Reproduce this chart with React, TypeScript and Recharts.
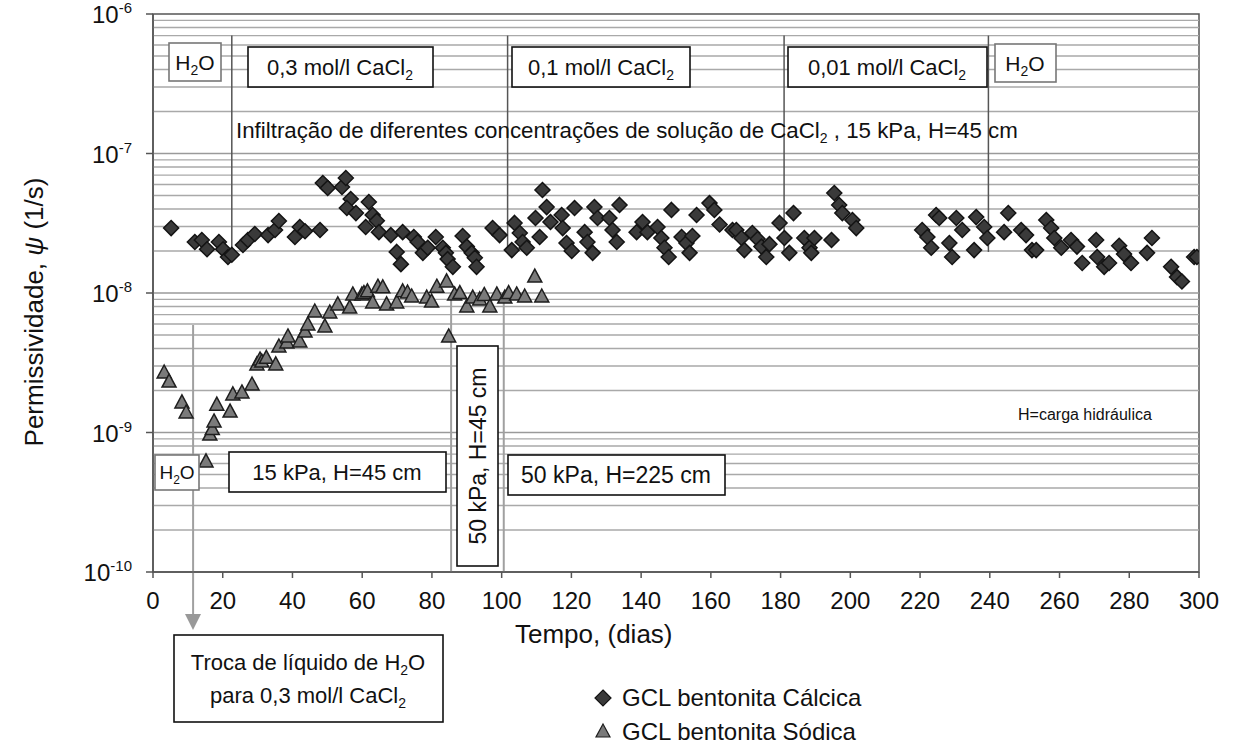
import {
  ReferenceArea,
  ReferenceLine,
  Scatter,
  ScatterChart,
  XAxis,
  YAxis,
} from "recharts";

// GCL bentonita Cálcica (diamonds)
const calcicDias = [
  5.2, 12.0, 14.0, 15.5, 18.9, 20.1, 21.5, 22.6, 25.8, 27.2, 29.2, 33.0, 35.0, 36.1, 40.7, 42.1, 43.6, 47.9,
  48.7, 50.1, 54.2, 55.3, 56.7, 55.6, 58.2, 61.9, 63.0, 64.2, 61.0, 64.8, 68.2, 71.6, 69.9, 71.1, 74.8, 75.9,
  77.4, 78.8, 81.1, 83.1, 84.0, 84.5, 86.0, 88.8, 90.0, 91.4, 92.3, 92.8, 97.4, 99.4, 103.7, 105.2, 102.9,
  106.0, 107.2, 109.7, 110.9, 111.7, 112.9, 114.0, 117.2, 117.5, 118.6, 120.1, 120.9, 123.8, 124.6, 126.1,
  126.6, 127.5, 130.9, 131.8, 133.0, 133.8, 138.7, 140.4, 141.8, 144.7, 145.8, 146.7, 147.9, 148.7, 151.6,
  153.0, 153.9, 154.7, 155.9, 159.6, 161.0, 162.5, 166.2, 167.3, 168.8, 169.6, 171.9, 173.4, 174.5, 175.9,
  176.8, 179.7, 181.1, 182.5, 183.7, 186.8, 188.3, 189.7, 188.8, 194.6, 195.4, 196.8, 197.7, 200.6, 201.7,
  220.6, 222.1, 223.2, 224.6, 225.5, 228.4, 229.2, 230.4, 232.1, 235.5, 236.1, 238.4, 239.3, 245.3, 244.1,
  249.0, 250.4, 252.1, 253.3, 256.2, 257.6, 258.5, 260.5, 263.3, 265.0, 266.5, 270.5, 270.8, 272.8, 274.2,
  277.1, 278.5, 280.5, 285.1, 286.5, 292.0, 293.7, 295.1, 298.6, 299.4,
];
const calcicPsi = [
  2.92e-8, 2.32e-8, 2.4e-8, 2.06e-8, 2.32e-8, 2.06e-8, 1.81e-8, 1.88e-8, 2.21e-8, 2.4e-8, 2.65e-8, 2.6e-8,
  2.83e-8, 3.28e-8, 2.52e-8, 2.97e-8, 2.77e-8, 2.83e-8, 6.15e-8, 5.66e-8, 5.75e-8, 6.67e-8, 4.72e-8, 4.07e-8,
  3.74e-8, 4.49e-8, 3.62e-8, 3.3e-8, 2.97e-8, 2.73e-8, 2.6e-8, 2.73e-8, 1.97e-8, 1.61e-8, 2.52e-8, 2.32e-8,
  1.94e-8, 2.11e-8, 2.52e-8, 2.11e-8, 1.94e-8, 1.75e-8, 1.54e-8, 2.56e-8, 2.15e-8, 1.94e-8, 1.79e-8, 1.54e-8,
  2.92e-8, 2.6e-8, 3.18e-8, 2.69e-8, 2.03e-8, 2.32e-8, 2.11e-8, 3.45e-8, 2.52e-8, 5.48e-8, 4.13e-8, 3.23e-8,
  3.62e-8, 2.92e-8, 2.28e-8, 2.0e-8, 4.07e-8, 2.73e-8, 2.32e-8, 1.94e-8, 4.13e-8, 3.45e-8, 3.45e-8, 2.83e-8,
  2.32e-8, 4.28e-8, 2.73e-8, 3.23e-8, 2.73e-8, 2.97e-8, 2.48e-8, 2.11e-8, 1.81e-8, 3.94e-8, 2.52e-8, 2.28e-8,
  1.94e-8, 2.56e-8, 3.62e-8, 4.41e-8, 3.94e-8, 3.1e-8, 2.83e-8, 2.83e-8, 2.48e-8, 2.03e-8, 2.69e-8, 2.44e-8,
  2.15e-8, 1.81e-8, 2.24e-8, 3.18e-8, 2.48e-8, 1.94e-8, 3.74e-8, 2.48e-8, 2.11e-8, 2.48e-8, 1.94e-8, 2.4e-8,
  5.21e-8, 4.28e-8, 3.74e-8, 3.34e-8, 2.92e-8, 2.83e-8, 2.52e-8, 2.11e-8, 3.62e-8, 3.45e-8, 2.28e-8, 1.81e-8,
  3.45e-8, 2.83e-8, 2.03e-8, 3.5e-8, 2.97e-8, 2.48e-8, 3.74e-8, 2.73e-8, 2.83e-8, 2.6e-8, 2.03e-8, 2.03e-8,
  3.34e-8, 2.92e-8, 2.48e-8, 2.11e-8, 2.4e-8, 2.15e-8, 1.64e-8, 2.4e-8, 1.81e-8, 1.54e-8, 1.64e-8, 2.18e-8,
  1.9e-8, 1.64e-8, 1.94e-8, 2.48e-8, 1.54e-8, 1.3e-8, 1.21e-8, 1.81e-8, 1.81e-8,
];

// GCL bentonita Sódica (triangles)
const sodicDias = [
  3.2, 4.6, 8.3, 9.5, 15.2, 16.3, 17.0, 17.5, 18.3, 22.1, 22.9, 25.5, 28.4, 29.8, 30.7, 31.2, 32.5, 35.2, 36.1,
  38.4, 38.7, 42.1, 43.6, 44.4, 46.4, 49.3, 50.7, 53.0, 56.4, 57.3, 59.9, 60.5, 61.5, 63.0, 64.5, 65.9, 67.0,
  69.9, 71.6, 73.0, 74.2, 78.5, 79.9, 81.4, 84.2, 84.8, 86.5, 88.0, 90.0, 91.7, 93.7, 95.0, 96.6, 98.6, 100.9,
  102.0, 104.3, 106.6, 109.5, 111.5,
];
const sodicPsi = [
  2.67e-9, 2.3e-9, 1.63e-9, 1.38e-9, 6.15e-10, 9.59e-10, 1.05e-9, 1.19e-9, 1.57e-9, 1.4e-9, 1.86e-9, 1.92e-9,
  2.19e-9, 3.05e-9, 3.31e-9, 3.2e-9, 3.4e-9, 3.05e-9, 4.1e-9, 4.38e-9, 4.84e-9, 4.46e-9, 5.25e-9, 5.9e-9,
  7.31e-9, 5.71e-9, 7.19e-9, 8.21e-9, 7.8e-9, 9.68e-9, 9.68e-9, 9.9e-9, 1.02e-8, 8.48e-9, 1.1e-8, 1.09e-8,
  8.21e-9, 8.48e-9, 1.02e-8, 1.0e-8, 9.36e-9, 9.2e-9, 8.61e-9, 1.1e-8, 1.2e-8, 4.84e-9, 9.68e-9, 9.9e-9,
  7.94e-9, 9.2e-9, 8.92e-9, 9.6e-9, 7.94e-9, 9.68e-9, 9.2e-9, 9.9e-9, 9.68e-9, 9.36e-9, 1.3e-8, 9.36e-9,
];

const xTicks = [0, 20, 40, 60, 80, 100, 120, 140, 160, 180, 200, 220, 240, 260, 280, 300];
const yTicks = [1e-10, 1e-9, 1e-8, 1e-7, 1e-6];
const minorGrid = [1e-10, 1e-9, 1e-8, 1e-7].flatMap((d) => [2, 3, 4, 5, 6, 7, 8, 9].map((m) => m * d));

// events (day at which the liquid / pressure changed)
const topEvents = [
  { x: 22.6, y1: 7e-7, y2: 1.73e-8 },
  { x: 101.7, y1: 7e-7, y2: 2.11e-8 },
  { x: 181, y1: 7e-7, y2: 2.03e-8 },
  { x: 239.6, y1: 7e-7, y2: 1.97e-8 },
];
const bottomEvents = [
  { x: 11.5, y1: 5.9e-9, y2: 5e-11 },
  { x: 85.5, y1: 1.0e-8, y2: 1e-10 },
  { x: 100.6, y1: 8.9e-9, y2: 1e-10 },
];

const calcicData = calcicDias.map((d, i) => ({ dias: d, psi: calcicPsi[i] }));
const sodicData = sodicDias.map((d, i) => ({ dias: d, psi: sodicPsi[i] }));

const FONT = "'Liberation Sans', Arial, sans-serif";

const Diamond = (props: any) => {
  const { cx, cy } = props;
  const r = 7.5;
  return (
    <path
      d={`M${cx},${cy - r}L${cx + r},${cy}L${cx},${cy + r}L${cx - r},${cy}Z`}
      fill="#3a3a3a"
      stroke="#141414"
      strokeWidth={1.5}
    />
  );
};

const Triangle = (props: any) => {
  const { cx, cy } = props;
  return (
    <path
      d={`M${cx},${cy - 8}L${cx + 7},${cy + 5}L${cx - 7},${cy + 5}Z`}
      fill="#7a7a7a"
      stroke="#1e1e1e"
      strokeWidth={1.5}
    />
  );
};

const YTick = (props: any) => {
  const { x, y, payload } = props;
  const exp = Math.round(Math.log10(payload.value));
  return (
    <text x={x} y={y + 9} textAnchor="end" fontFamily={FONT} fontSize={24} fill="#111">
      <tspan fontSize={24}>10</tspan>
      <tspan fontSize={15} dy={-10}>
        {exp}
      </tspan>
    </text>
  );
};

// label text "<pre><sub>2</sub><post>"
const SubText = ({ x, y, size, sub, pre, post = "", anchor = "middle", transform }: any) => (
  <text x={x} y={y} fontSize={size} textAnchor={anchor} transform={transform}>
    <tspan>{pre}</tspan>
    <tspan fontSize={Math.round(size * 0.65)} dy={5}>
      {sub}
    </tspan>
    {post ? <tspan dy={-5}>{post}</tspan> : null}
  </text>
);

const Box = ({ x, y, w, h, stroke = "#111" }: any) => (
  <rect x={x} y={y} width={w} height={h} fill="#fff" stroke={stroke} strokeWidth={1.6} />
);

export default function App() {
  return (
    <div
      style={{
        position: "absolute",
        left: 0,
        top: 0,
        width: 1239,
        height: 751,
        background: "#fff",
        fontFamily: FONT,
      }}
    >
      <ScatterChart width={1239} height={751} margin={{ top: 14, right: 40, left: 63, bottom: 139 }}>
        <XAxis
          type="number"
          dataKey="dias"
          domain={[0, 300]}
          ticks={xTicks}
          interval={0}
          stroke="#555"
          strokeWidth={1.5}
          tickSize={6}
          tickMargin={14}
          height={40}
          tick={{ fill: "#111", fontSize: 24, fontFamily: FONT }}
          allowDataOverflow
        />
        <YAxis
          type="number"
          dataKey="psi"
          scale="log"
          domain={[1e-10, 1e-6]}
          ticks={yTicks}
          interval={0}
          width={90}
          stroke="#555"
          strokeWidth={1.5}
          tickSize={7}
          tickMargin={14}
          tick={<YTick />}
          allowDataOverflow
        />
        {minorGrid.map((v) => (
          <ReferenceLine key={"m" + v} y={v} stroke="#a9a9a9" strokeWidth={1.4} />
        ))}
        {yTicks.slice(1, 4).map((v) => (
          <ReferenceLine key={"M" + v} y={v} stroke="#9a9a9a" strokeWidth={1.6} />
        ))}
        <ReferenceArea x1={0} x2={300} y1={1e-10} y2={1e-6} fill="none" stroke="#555" strokeWidth={1.5} />
        {topEvents.map((e) => (
          <ReferenceLine
            key={"t" + e.x}
            segment={[
              { x: e.x, y: e.y1 },
              { x: e.x, y: e.y2 },
            ]}
            stroke="#555"
            strokeWidth={1.5}
            ifOverflow="visible"
          />
        ))}
        {bottomEvents.map((e) => (
          <ReferenceLine
            key={"b" + e.x}
            segment={[
              { x: e.x, y: e.y1 },
              { x: e.x, y: e.y2 },
            ]}
            stroke="#a0a0a0"
            strokeWidth={2}
            ifOverflow="visible"
          />
        ))}
        <Scatter name="GCL bentonita Cálcica" data={calcicData} shape={Diamond} isAnimationActive={false} />
        <Scatter name="GCL bentonita Sódica" data={sodicData} shape={Triangle} isAnimationActive={false} />
      </ScatterChart>

      <svg
        width={1239}
        height={751}
        style={{ position: "absolute", left: 0, top: 0, pointerEvents: "none" }}
        fontFamily={FONT}
        fill="#111"
      >
        {/* arrow head of the liquid change */}
        <path d="M185,614L201,614L193,630Z" fill="#999" stroke="none" />

        {/* top boxes */}
        <Box x={169} y={43} w={52} h={38} stroke="#777" />
        <SubText x={195} y={70} size={21} pre="H" sub="2" post="O" />
        <Box x={248} y={47} w={185} h={40} />
        <SubText x={340} y={75} size={22} pre="0,3 mol/l CaCl" sub="2" />
        <Box x={512} y={47} w={178} h={40} />
        <SubText x={601} y={75} size={22} pre="0,1 mol/l CaCl" sub="2" />
        <Box x={788} y={47} w={199} h={40} />
        <SubText x={887} y={75} size={22} pre="0,01 mol/l CaCl" sub="2" />
        <Box x={995} y={44} w={61} h={38} stroke="#777" />
        <SubText x={1025} y={71} size={21} pre="H" sub="2" post="O" />

        <SubText
          x={236}
          y={138}
          size={22.3}
          anchor="start"
          pre="Infiltração de diferentes concentrações de solução de CaCl"
          sub="2"
          post=" , 15 kPa, H=45 cm"
        />

        <text x={1018} y={420} fontSize={16}>
          H=carga hidráulica
        </text>

        {/* bottom boxes */}
        <Box x={155} y={455} w={44} h={35} stroke="#777" />
        <SubText x={177} y={479} size={19} pre="H" sub="2" post="O" />
        <Box x={229} y={452} w={217} h={40} />
        <text x={337} y={480} textAnchor="middle" fontSize={22}>
          15 kPa, H=45 cm
        </text>
        <Box x={457} y={346} w={41} h={220} />
        <text transform="translate(486,456) rotate(-90)" textAnchor="middle" fontSize={23}>
          50 kPa, H=45 cm
        </text>
        <Box x={508} y={455} w={217} h={40} />
        <text x={616} y={483} textAnchor="middle" fontSize={23}>
          50 kPa, H=225 cm
        </text>

        <Box x={174} y={635} w={269} h={87} />
        <SubText x={308} y={670} size={22} pre="Troca de líquido de H" sub="2" post="O" />
        <SubText x={308} y={703} size={22} pre="para 0,3 mol/l CaCl" sub="2" />

        {/* axis titles */}
        <text x={515} y={643} fontSize={26}>
          Tempo, (dias)
        </text>
        <text transform="translate(43,312) rotate(-90)" textAnchor="middle" fontSize={26}>
          <tspan>Permissividade, </tspan>
          <tspan fontStyle="italic">ψ</tspan>
          <tspan> (1/s)</tspan>
        </text>

        {/* legend */}
        <path d="M603,690L611,698L603,706L595,698Z" fill="#3a3a3a" stroke="#141414" strokeWidth={1.2} />
        <text x={622} y={706} fontSize={24}>
          GCL bentonita Cálcica
        </text>
        <path d="M603,724L610,737L596,737Z" fill="#7a7a7a" stroke="#1e1e1e" strokeWidth={1.2} />
        <text x={622} y={740} fontSize={24}>
          GCL bentonita Sódica
        </text>
      </svg>
    </div>
  );
}
